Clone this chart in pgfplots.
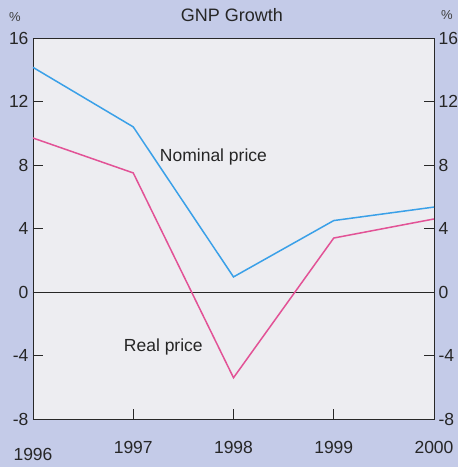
\documentclass[border=0pt]{standalone}
\usepackage{pgfplots}
\pgfplotsset{compat=1.18}
\usepackage{fontspec}
\setmainfont{Liberation Sans}
\definecolor{bgout}{RGB}{196,203,232}
\definecolor{bgin}{RGB}{237,237,241}
\definecolor{nomblue}{RGB}{58,160,232}
\definecolor{realpink}{RGB}{226,82,150}
\definecolor{frame}{RGB}{40,40,40}
\begin{document}
\begin{tikzpicture}[x=1pt,y=1pt]
\fill[bgout] (0,0) rectangle (458,467);
\begin{axis}[
  at={(33pt,48pt)}, anchor=south west,
  scale only axis, width=401pt, height=381pt,
  xmin=1996, xmax=2000, ymin=-8, ymax=16,
  xtick={1997,1998,1999,2000},
  xticklabels={1997,1998,1999,2000},
  extra x ticks={1996},
  extra x tick labels={1996},
  extra x tick style={xticklabel style={yshift=-7pt}},
  ytick={-8,-4,0,4,8,12,16},
  yticklabels={-8,-4,0,4,8,12,16},
  xtick pos=bottom,
  ytick pos=both,
  tick align=inside,
  major tick length=10pt,
  every tick/.style={frame, line width=0.9pt},
  axis line style={frame, line width=0.9pt},
  axis background/.style={fill=bgin},
  tick label style={font=\fontsize{17.5}{20}\selectfont, text=black!85},
  xticklabel style={yshift=-19pt},
  yticklabel style={xshift=-1pt},
  clip=false,
]
\addplot[black!85, line width=0.9pt] coordinates {(1996,0) (2000,0)};
\addplot[nomblue, line width=1.5pt] coordinates {
  (1996,14.15) (1997,10.4) (1998,0.95) (1999,4.5) (2000,5.35)};
\addplot[realpink, line width=1.5pt] coordinates {
  (1996,9.7) (1997,7.5) (1998,-5.4) (1999,3.4) (2000,4.6)};
\node[font=\fontsize{17.5}{20}\selectfont, text=black!85] at (axis cs:1997.8,8.5) {Nominal price};
\node[font=\fontsize{17.5}{20}\selectfont, text=black!85] at (axis cs:1997.3,-3.45) {Real price};
\end{axis}
\begin{axis}[
  at={(33pt,48pt)}, anchor=south west,
  scale only axis, width=401pt, height=381pt,
  xmin=1996, xmax=2000, ymin=-8, ymax=16,
  hide x axis,
  axis y line*=right,
  y axis line style={draw=none},
  ytick={-8,-4,0,4,8,12,16},
  yticklabels={-8,-4,0,4,8,12,16},
  major tick length=0pt,
  ytick style={draw=none},
  tick label style={font=\fontsize{17.5}{20}\selectfont, text=black!85},
  yticklabel style={xshift=1pt},
]
\end{axis}
\node[font=\fontsize{18}{21}\selectfont, text=black!85] at (232,452) {GNP Growth};
\node[font=\fontsize{13}{15}\selectfont, text=black!75] at (15,450) {\%};
\node[font=\fontsize{13}{15}\selectfont, text=black!75] at (447,452) {\%};
\end{tikzpicture}
\end{document}
